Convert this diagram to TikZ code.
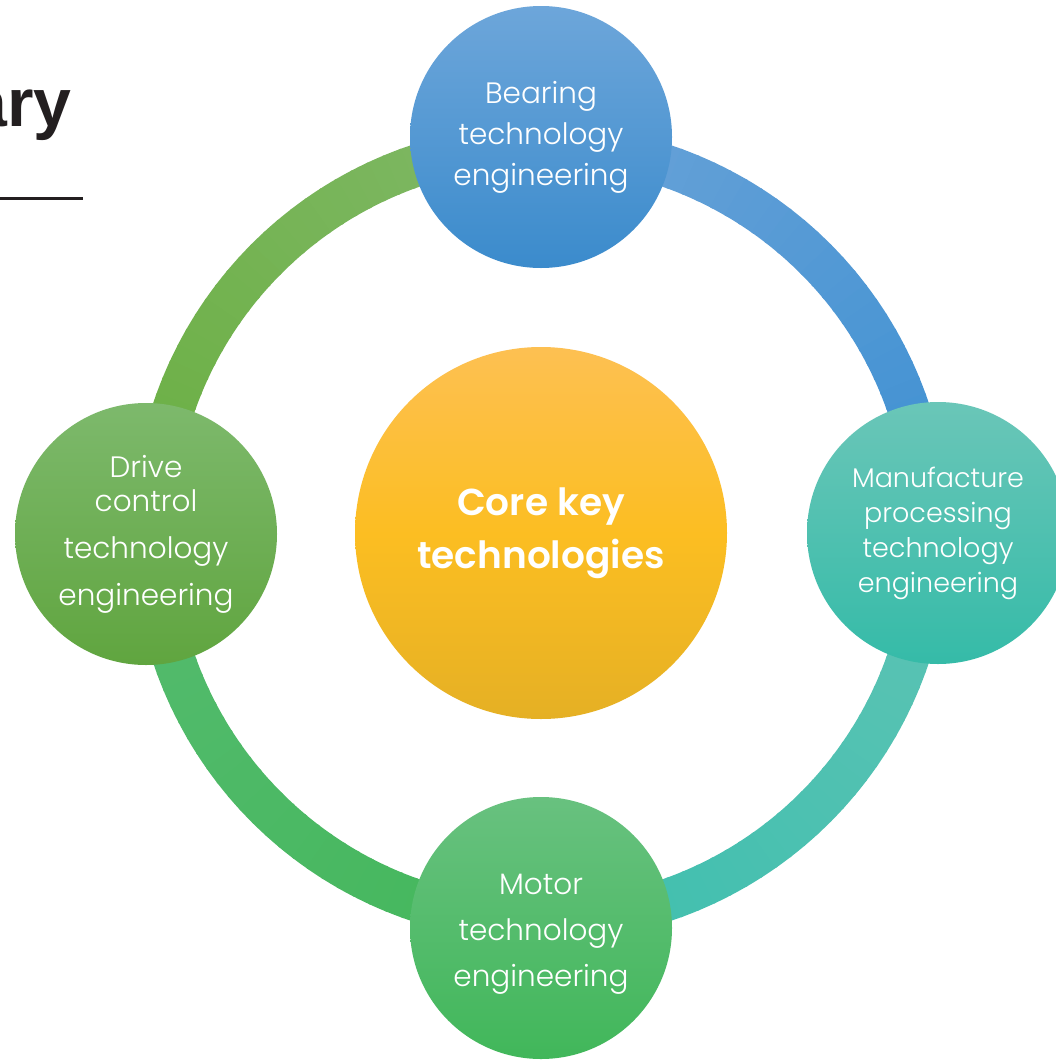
\documentclass[tikz,border=0pt]{standalone}
\usepackage{fontspec}
\usetikzlibrary{calc}
\newfontfamily\lightfont{Poppins Light}
\newfontfamily\semifont{Poppins SemiBold}
\newfontfamily\arialfont{Liberation Sans}
\definecolor{inkdark}{HTML}{231F20}
\definecolor{trA}{HTML}{6BA3D8}\definecolor{trB}{HTML}{3D90D2}
\definecolor{tlA}{HTML}{80B866}\definecolor{tlB}{HTML}{6AAF42}
\definecolor{blA}{HTML}{55BB6F}\definecolor{blB}{HTML}{43B75B}
\definecolor{brA}{HTML}{3DBFAE}\definecolor{brB}{HTML}{5EC3B4}
\definecolor{topT}{HTML}{6DA6DA}\definecolor{topB}{HTML}{3B8BCC}
\definecolor{rgtT}{HTML}{6AC6B8}\definecolor{rgtB}{HTML}{35BBA8}
\definecolor{lftT}{HTML}{7DB96C}\definecolor{lftB}{HTML}{60A53F}
\definecolor{botT}{HTML}{68C17F}\definecolor{botB}{HTML}{41B75A}
\definecolor{cenT}{HTML}{FDC052}\definecolor{cenM}{HTML}{FCBE22}\definecolor{cenB}{HTML}{E5B024}
\tikzset{
  sat/.style={circle, minimum size=262pt, inner sep=0pt, text=white, align=center},
  core/.style={circle, minimum size=372pt, inner sep=0pt, text=white, align=center,
    top color=cenT, bottom color=cenB, middle color=cenM, shading angle=0},
}
\begin{document}
\begin{tikzpicture}[x=1pt,y=1pt]
\useasboundingbox[fill=white] (0,0) rectangle (1056,-1060);
\coordinate (C) at (541,-533);
% ring
\foreach \sa/\ea/\ca/\cb in {90/0/trA/trB, 90/180/tlA/tlB, 180/270/blA/blB, 270/360/brA/brB}{
  \foreach \i in {0,...,35}{
    \pgfmathsetmacro\s{\sa+(\ea-\sa)*\i/36}
    \pgfmathsetmacro\e{\sa+(\ea-\sa)*(\i+1.15)/36}
    \pgfmathsetmacro\p{100*\i/35}
    \draw[line width=42pt, color=\cb!\p!\ca] (C) ++(\s:388pt) arc[start angle=\s, end angle=\e, radius=388pt];
  }
}
% title fragment
\node[font=\arialfont\bfseries\fontsize{68}{70}\selectfont, text=inkdark, anchor=base east, inner sep=0pt] (title) at (72,-126) {ary};
\coordinate (ruleL) at (0,-198);
\coordinate (ruleR) at (83,-198);
\draw[line width=3pt, inkdark] (ruleL) -- (ruleR);
% circles
\node[core, font=\semifont\fontsize{37.5}{53}\selectfont] (core) at (C) {Core key\\technologies};
\node[sat, top color=topT, bottom color=topB, font=\lightfont\fontsize{29.5}{41}\selectfont] (bear) at (541,-137) {Bearing\\technology\\engineering};
\node[sat, top color=rgtT, bottom color=rgtB, font=\lightfont\fontsize{27}{35}\selectfont] (manu) at (938,-533) {Manufacture\\processing\\technology\\engineering};
\node[sat, top color=botT, bottom color=botB, font=\lightfont\fontsize{29.5}{46}\selectfont] (motor) at (541,-928) {\\[-14pt]Motor\\technology\\engineering};
\node[sat, top color=lftT, bottom color=lftB, font=\lightfont\fontsize{29.5}{47}\selectfont] (drive) at (146,-534) {Drive\\[-13pt]control\\technology\\engineering};
\end{tikzpicture}
\end{document}
